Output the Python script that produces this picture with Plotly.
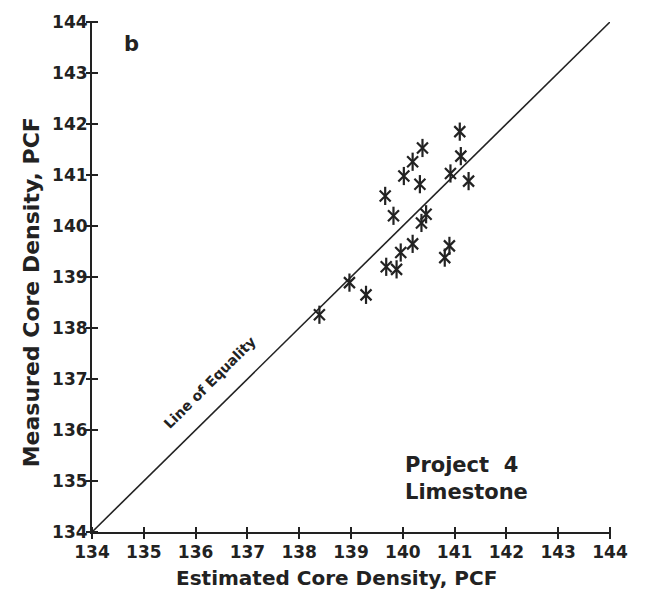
import plotly.graph_objects as go

# Estimated vs. measured core density (PCF), Project 4 limestone
estimated = [141.10, 140.38, 140.19, 141.12, 140.02, 140.92, 140.33, 141.27,
             139.66, 139.82, 140.45, 140.36, 140.19, 139.96, 140.90, 140.81,
             139.68, 139.88, 138.97, 139.29, 138.39]
measured = [141.85, 141.53, 141.26, 141.37, 140.98, 141.03, 140.82, 140.88,
            140.59, 140.20, 140.23, 140.06, 139.65, 139.48, 139.61, 139.38,
            139.20, 139.15, 138.89, 138.65, 138.26]

equality = [134, 144]
tick_vals = list(range(134, 145))
tick_text = [str(v) for v in tick_vals]

ink = "#222222"
font_main = "DejaVu Sans"

W, H = 645, 598
M = dict(l=92, r=35, t=17, b=66)
plot_w = W - M["l"] - M["r"]
plot_h = H - M["t"] - M["b"]
half_tick = 6  # ticks cross the axis line, 6 px to each side


def px_to_paper(px, py):
    """Page pixel position -> plot-area (paper) fraction."""
    return (px - M["l"]) / plot_w, (H - M["b"] - py) / plot_h


fig = go.Figure()

# line of equality (on the overlay axes, which carry the visible axis lines)
fig.add_trace(go.Scatter(
    x=equality, y=equality, mode="lines", xaxis="x2", yaxis="y2",
    line=dict(color=ink, width=1.6), hoverinfo="skip", showlegend=False,
))

# six-armed asterisk: an X plus a vertical stroke at each point
fig.add_trace(go.Scatter(
    x=estimated, y=measured, mode="markers",
    marker=dict(symbol="x-thin-open", size=11, color=ink,
                line=dict(color=ink, width=2.2)),
    showlegend=False,
))
fig.add_trace(go.Scatter(
    x=estimated, y=measured, mode="markers",
    marker=dict(symbol="line-ns-open", size=13, color=ink,
                line=dict(color=ink, width=2.2)),
    showlegend=False,
))

# tick-carrying axes sit half a tick inside the frame so the ticks straddle it
tick_axis = dict(
    range=[134, 144], tickmode="array", tickvals=tick_vals, ticktext=tick_text,
    showgrid=False, zeroline=False, showline=False, anchor="free",
    ticks="outside", ticklen=2 * half_tick, tickwidth=1.6, tickcolor=ink,
    tickfont=dict(family=font_main, size=17, color=ink, weight="bold"),
)
line_axis = dict(
    range=[134, 144], showticklabels=False, showgrid=False, zeroline=False,
    showline=True, linecolor=ink, linewidth=1.6, ticks="",
)

xt_x, xt_y = px_to_paper(336, 578)
yt_x, yt_y = px_to_paper(31, 290)

fig.update_layout(
    width=W, height=H, margin=M,
    paper_bgcolor="white", plot_bgcolor="white",
    xaxis=dict(**tick_axis, position=half_tick / plot_h, ticklabelstandoff=-1),
    yaxis=dict(**tick_axis, position=half_tick / plot_w, ticklabelstandoff=-5),
    xaxis2=dict(**line_axis, overlaying="x", anchor="y2", side="bottom"),
    yaxis2=dict(**line_axis, overlaying="y", anchor="x2", side="left"),
    annotations=[
        dict(x=xt_x, y=xt_y, xref="paper", yref="paper",
             text="Estimated Core Density, PCF", showarrow=False,
             xanchor="center", yanchor="middle",
             font=dict(family=font_main, size=20, color=ink, weight="bold")),
        dict(x=yt_x, y=yt_y, xref="paper", yref="paper",
             text="Measured Core Density, PCF", showarrow=False, textangle=-90,
             xanchor="center", yanchor="middle",
             font=dict(family=font_main, size=22, color=ink, weight="bold")),
        dict(x=134.77, y=143.56, xref="x", yref="y", text="b",
             showarrow=False,
             font=dict(family=font_main, size=21, color=ink, weight="bold")),
        dict(x=136.26, y=136.93, xref="x", yref="y", text="Line of Equality",
             textangle=-45, showarrow=False,
             font=dict(family=font_main, size=14, color=ink, weight="bold")),
        dict(x=140.0, y=135.05, xref="x", yref="y",
             text="Project  4<br>Limestone", align="left",
             showarrow=False, xanchor="left",
             font=dict(family=font_main, size=21, color=ink, weight="bold")),
    ],
)

fig.write_html("out.html")
